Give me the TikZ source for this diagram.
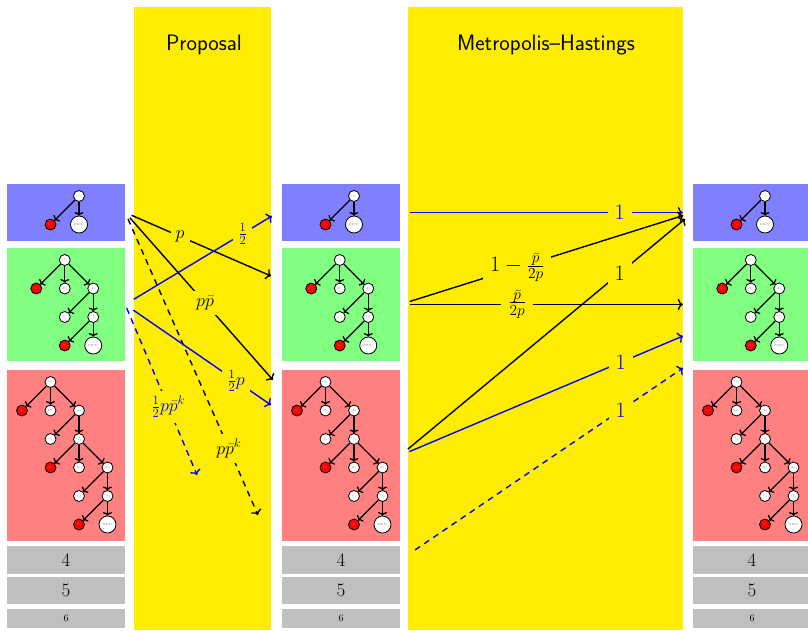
\RequirePackage{fix-cm}
\documentclass[tikz,border=0pt]{standalone}
\usetikzlibrary{arrows.meta}
\definecolor{myyellow}{RGB}{255,237,0}
\definecolor{boxblue}{RGB}{128,128,255}
\definecolor{boxgreen}{RGB}{128,255,128}
\definecolor{boxred}{RGB}{255,128,128}
\definecolor{boxgray}{RGB}{191,191,191}
\tikzset{
  tn/.style={circle,draw,line width=0.8pt,fill=white,inner sep=0pt,minimum size=11pt,
    font=\fontsize{3}{3}\selectfont,text=gray},
  rn/.style={tn,fill=red},
  retn/.style={tn,minimum size=17pt},
  tarr/.style={-{To[length=3.5pt,width=9pt]},line width=1.3pt},
  cbox/.style={inner sep=0pt,minimum width=118pt},
  ycol/.style={fill=myyellow,inner sep=0pt,minimum height=623pt},
  ttl/.style={font=\fontsize{22.3}{26}\sffamily},
  carr/.style={-{To[length=5pt,width=11pt]},line width=1.4pt},
  dsh/.style={dash pattern=on 6pt off 5pt},
  plbl/.style={fill=myyellow,inner sep=5pt,font=\fontsize{18}{20}\selectfont},
  mlbl/.style={fill=myyellow,inner sep=7pt,font=\fontsize{22}{26}\selectfont},
  big/.style={font=\fontsize{19}{22}\selectfont},
  sml/.style={font=\fontsize{10}{12}\selectfont}
}
\newcommand\treeBlue[3]{%
\begin{scope}[shift={(#2,#3)}]
\node[tn] (#1a) at (72,12) {$if_1$};
\node[rn] (#1b) at (43.5,40.5) {$B_1$};
\node[retn] (#1c) at (72,40.5) {$RET_1$};
\draw[tarr] (#1a) -- (#1b);
\draw[tarr] (#1a) -- (#1c);
\end{scope}}
\newcommand\treeGreen[3]{%
\begin{scope}[shift={(#2,#3)}]
\node[tn] (#1a) at (57.75,12) {$if_1$};
\node[rn] (#1b) at (29.25,40.5) {$B_1$};
\node[tn] (#1c) at (57.75,40.5) {$D_1$};
\node[tn] (#1d) at (86.25,40.5) {$A_1$};
\node[tn] (#1e) at (57.75,69) {$+_1$};
\node[tn] (#1f) at (86.25,69) {$if_2$};
\node[rn] (#1g) at (57.75,97.5) {$B_2$};
\node[retn] (#1h) at (86.25,97.5) {$RET_2$};
\draw[tarr] (#1a) -- (#1b);
\draw[tarr] (#1a) -- (#1c);
\draw[tarr] (#1a) -- (#1d);
\draw[tarr] (#1d) -- (#1e);
\draw[tarr] (#1d) -- (#1f);
\draw[tarr] (#1f) -- (#1g);
\draw[tarr] (#1f) -- (#1h);
\end{scope}}
\newcommand\treeRed[3]{%
\begin{scope}[shift={(#2,#3)}]
\node[tn] (#1a) at (43.5,12) {$if_1$};
\node[rn] (#1b) at (15,40.5) {$B_1$};
\node[tn] (#1c) at (43.5,40.5) {$D_1$};
\node[tn] (#1d) at (72,40.5) {$A_1$};
\node[tn] (#1e) at (43.5,69) {$+_1$};
\node[tn] (#1f) at (72,69) {$if_2$};
\node[rn] (#1g) at (43.5,97.5) {$B_2$};
\node[tn] (#1h) at (72,97.5) {$D_2$};
\node[tn] (#1i) at (100.5,97.5) {$A_2$};
\node[tn] (#1j) at (72,126) {$+_2$};
\node[tn] (#1k) at (100.5,126) {$if_3$};
\node[rn] (#1l) at (72,154.5) {$B_3$};
\node[retn] (#1m) at (100.5,154.5) {$RET_3$};
\draw[tarr] (#1a) -- (#1b);
\draw[tarr] (#1a) -- (#1c);
\draw[tarr] (#1a) -- (#1d);
\draw[tarr] (#1d) -- (#1e);
\draw[tarr] (#1d) -- (#1f);
\draw[tarr] (#1f) -- (#1g);
\draw[tarr] (#1f) -- (#1h);
\draw[tarr] (#1f) -- (#1i);
\draw[tarr] (#1i) -- (#1j);
\draw[tarr] (#1i) -- (#1k);
\draw[tarr] (#1k) -- (#1l);
\draw[tarr] (#1k) -- (#1m);
\end{scope}}
\newcommand\column[3]{% prefix, x centre, x left
\node[cbox,fill=boxblue,minimum height=57pt] (#1blue) at (#2,212.5) {};
\node[cbox,fill=boxgreen,minimum height=113pt] (#1green) at (#2,304.5) {};
\node[cbox,fill=boxred,minimum height=171pt] (#1red) at (#2,455.5) {};
\node[cbox,fill=boxgray,minimum height=28pt,big] (#1g4) at (#2,560) {4};
\node[cbox,fill=boxgray,minimum height=27pt,big] (#1g5) at (#2,590.5) {5};
\node[cbox,fill=boxgray,minimum height=19pt,sml] (#1g6) at (#2,618.5) {6};
\treeBlue{#1tb}{#3}{184}
\treeGreen{#1tg}{#3}{248}
\treeRed{#1tr}{#3}{370}}
\begin{document}
\begin{tikzpicture}[x=1pt,y=-1pt]
\useasboundingbox (0,0) rectangle (808,630);
\clip (0,0) rectangle (808,630);
\fill[white] (0,0) rectangle (808,630);
% yellow columns
\node[ycol,minimum width=137pt] (propcol) at (202.5,318.5) {};
\node[ycol,minimum width=275pt] (mhcol) at (545.5,318.5) {};
\node[ttl] (proptitle) at (204,45) {Proposal};
\node[ttl] (mhtitle) at (546,45) {Metropolis--Hastings};
% columns of states
\column{l}{66}{7}
\column{m}{341}{282}
\column{r}{752}{693}
% proposal end points
\coordinate (pe1) at (271,276);
\coordinate (pe2) at (273,380);
\coordinate (pe3) at (258,515);
\coordinate (pe4) at (272,216);
\coordinate (pe5) at (271,405);
\coordinate (pe6) at (197,475);
\draw[carr,shorten <=7pt] (lblue.east) -- node[plbl,pos=0.377]{$p$} (pe1);
\draw[carr,shorten <=7pt] (lblue.east) -- node[plbl,pos=0.54]{$p\bar p$} (pe2);
\draw[carr,dsh,shorten <=7pt] (lblue.east) -- node[plbl,pos=0.78]{$p\bar p^k$} (pe3);
\draw[carr,blue,shorten <=10pt] (lgreen.east) -- node[plbl,pos=0.8]{$\frac12$} (pe4);
\draw[carr,blue,shorten <=10pt] (lgreen.east) -- node[plbl,pos=0.76]{$\frac12 p$} (pe5);
\draw[carr,blue,dsh,shorten <=4pt] (lgreen.east) -- node[plbl,pos=0.6]{$\frac12 p\bar p^k$} (pe6);
% Metropolis-Hastings
\coordinate (me1) at (683,336);
\coordinate (me2) at (683,368);
\draw[carr,blue,shorten <=10pt,shorten >=10pt] (mblue.east) -- node[mlbl,pos=0.75]{$1$} (rblue.west);
\draw[carr,shorten <=10pt,shorten >=10pt] (mgreen.east) -- node[mlbl,pos=0.40]{$1-\frac{\bar p}{2p}$} (rblue.west);
\draw[carr,shorten <=10pt,shorten >=10pt] (mgreen.east) -- node[mlbl,pos=0.40]{$\frac{\bar p}{2p}$} (rgreen.west);
\draw[carr,shorten <=10pt,shorten >=10pt] (mred.east) -- node[mlbl,pos=0.75]{$1$} (rblue.west);
\draw[carr,blue,shorten <=10pt] (mred.east) -- node[mlbl,pos=0.78]{$1$} (me1);
\draw[carr,blue,dsh,shorten <=18pt] (mg4.east) -- node[mlbl,pos=0.78]{$1$} (me2);
\end{tikzpicture}
\end{document}
